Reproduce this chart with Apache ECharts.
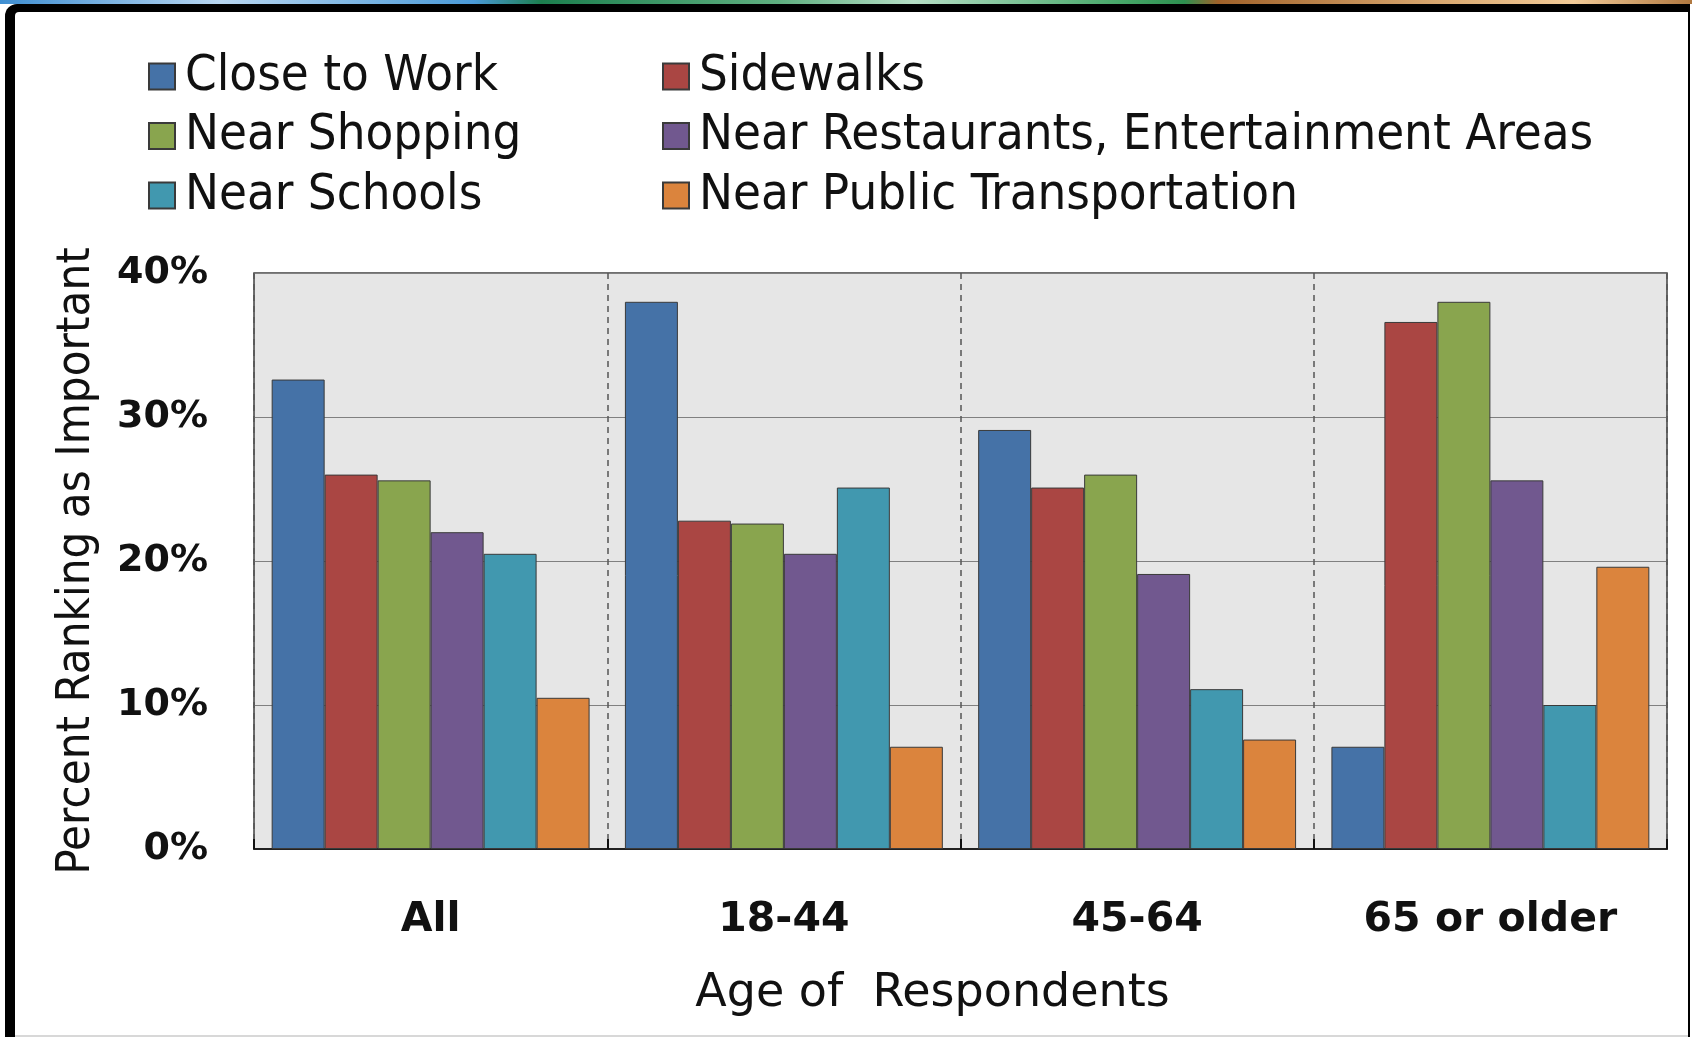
<!DOCTYPE html>
<html>
<head>
<meta charset="utf-8">
<script src="https://cdn.jsdelivr.net/npm/echarts@6/dist/echarts.min.js"></script>
<style>
  html, body { margin: 0; padding: 0; background: #ffffff; }
  #chart { width: 1692px; height: 1037px; }
</style>
</head>
<body>
<div id="chart"></div>
<script>
// Age groups on the x axis
const ageGroups = ['All', '18-44', '45-64', '65 or older'];

// Percent of respondents ranking each feature as important
const closeToWork     = [32.6, 38.0, 29.1, 7.1];
const sidewalks       = [26.0, 22.8, 25.1, 36.6];
const nearShopping    = [25.6, 22.6, 26.0, 38.0];
const nearRestaurants = [22.0, 20.5, 19.1, 25.6];
const nearSchools     = [20.5, 25.1, 11.1, 10.0];
const nearTransit     = [10.5, 7.1, 7.6, 19.6];

const seriesNames = [
  'Close to Work', 'Sidewalks', 'Near Shopping',
  'Near Restaurants, Entertainment Areas', 'Near Schools', 'Near Public Transportation'
];
const seriesValues = [closeToWork, sidewalks, nearShopping, nearRestaurants, nearSchools, nearTransit];
const seriesColors = ['#4572A7', '#AA4643', '#89A54E', '#71588F', '#4198AF', '#DB843D'];

// y axis ticks
const yMin = 0, yMax = 40, yStep = 10;

const chart = echarts.init(document.getElementById('chart'), null, { renderer: 'canvas' });

const legendText = {
  fontFamily: '"DejaVu Sans Condensed", "DejaVu Sans", sans-serif',
  fontSize: 50.5,
  color: '#111111',
  padding: [0, 0, 0, 5]
};

const option = {
  backgroundColor: '#ffffff',
  animation: false,
  graphic: [
    // top colour strip
    {
      type: 'rect', z: -10, silent: true,
      shape: { x: 0, y: 0, width: 1692, height: 4 },
      style: {
        fill: new echarts.graphic.LinearGradient(0, 0, 1, 0, [
          { offset: 0.00, color: '#3F8FD2' },
          { offset: 0.13, color: '#B8D6F0' },
          { offset: 0.28, color: '#4A9AD8' },
          { offset: 0.32, color: '#1C7F4E' },
          { offset: 0.46, color: '#5FAF80' },
          { offset: 0.54, color: '#B5DEC5' },
          { offset: 0.66, color: '#48A86A' },
          { offset: 0.70, color: '#2E9050' },
          { offset: 0.72, color: '#A0622A' },
          { offset: 0.85, color: '#D9A870' },
          { offset: 0.93, color: '#F2CB98' },
          { offset: 1.00, color: '#B07840' }
        ])
      }
    },
    // dark frame
    {
      type: 'rect', z: -9, silent: true,
      shape: { x: 5, y: 4, width: 1685, height: 1040, r: [12, 0, 0, 0] },
      style: { fill: '#000000' }
    },
    {
      type: 'rect', z: -8, silent: true,
      shape: { x: 15, y: 12, width: 1673, height: 1023, r: [4, 0, 0, 0] },
      style: { fill: '#ffffff' }
    },
    {
      type: 'rect', z: -8, silent: true,
      shape: { x: 15, y: 1035, width: 1673, height: 2 },
      style: { fill: '#D8D8D8' }
    }
  ],
  legend: [
    {
      orient: 'vertical', left: 143, top: 46,
      itemWidth: 26, itemHeight: 26, itemGap: 8.5,
      icon: 'rect',
      data: [seriesNames[0], seriesNames[2], seriesNames[4]],
      textStyle: legendText
    },
    {
      orient: 'vertical', left: 657, top: 46,
      itemWidth: 26, itemHeight: 26, itemGap: 8.5,
      icon: 'rect',
      data: [seriesNames[1], seriesNames[3], seriesNames[5]],
      textStyle: legendText
    }
  ],
  grid: {
    left: 254, top: 273, width: 1413, height: 576,
    show: true,
    backgroundColor: '#E6E6E6',
    borderColor: '#404040',
    borderWidth: 1.5,
    containLabel: false
  },
  xAxis: {
    type: 'category',
    data: ageGroups,
    name: 'Age of  Respondents',
    nameLocation: 'middle',
    nameGap: 122,
    nameTextStyle: {
      fontFamily: '"DejaVu Sans", sans-serif',
      fontSize: 46,
      color: '#111111',
      padding: [0, 56, 0, 0]
    },
    axisLine: { show: true, lineStyle: { color: '#222222', width: 2 } },
    axisTick: { show: true, inside: true, length: 10, lineStyle: { color: '#111111', width: 2 } },
    splitLine: { show: true, lineStyle: { color: '#555555', width: 1.5, type: [6, 5] } },
    axisLabel: {
      margin: 51,
      fontFamily: '"DejaVu Sans", sans-serif',
      fontWeight: 'bold',
      fontSize: 41,
      color: '#111111'
    }
  },
  yAxis: {
    type: 'value',
    min: yMin, max: yMax, interval: yStep,
    name: 'Percent Ranking as Important',
    nameLocation: 'middle',
    nameGap: 154,
    nameRotate: 90,
    nameTextStyle: {
      fontFamily: '"DejaVu Sans Condensed", "DejaVu Sans", sans-serif',
      fontSize: 47,
      color: '#111111'
    },
    axisLine: { show: false },
    axisTick: { show: false },
    splitLine: { show: true, lineStyle: { color: '#808080', width: 1 } },
    axisLabel: {
      margin: 46,
      formatter: '{value}%',
      fontFamily: '"DejaVu Sans", sans-serif',
      fontWeight: 'bold',
      fontSize: 38,
      color: '#111111'
    }
  },
  series: seriesNames.map((name, i) => ({
    name: name,
    type: 'bar',
    data: seriesValues[i],
    barGap: '0%',
    barCategoryGap: '10%',
    itemStyle: {
      color: seriesColors[i],
      borderColor: '#3A3A3A',
      borderWidth: 1
    }
  }))
};

chart.setOption(option);
</script>
</body>
</html>
